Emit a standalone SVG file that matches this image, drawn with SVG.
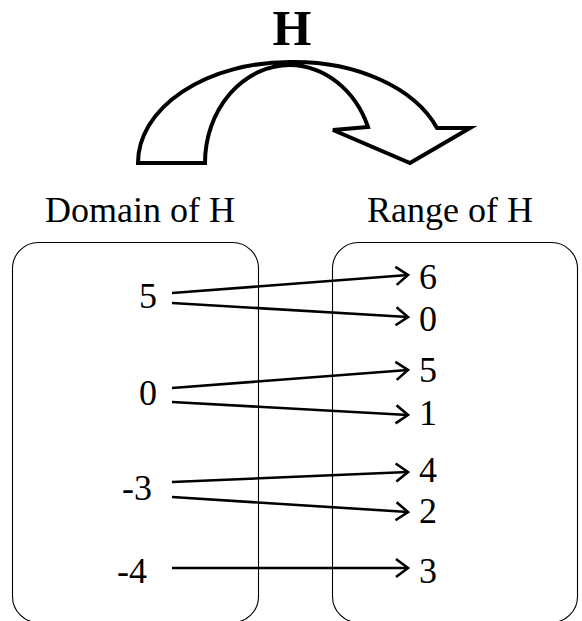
<svg xmlns="http://www.w3.org/2000/svg" width="582" height="621" viewBox="0 0 582 621">
<style>
.t{font-family:"Liberation Serif","Times New Roman",serif;font-size:36px;fill:#000}
.h{font-family:"Liberation Serif","Times New Roman",serif;font-size:50px;font-weight:bold;fill:#000}
.box{fill:none;stroke:#000;stroke-width:1.1}
.con{stroke:#000;stroke-width:2.6;fill:none;marker-end:url(#chev)}
</style>
<defs>
<marker id="chev" viewBox="-14 -11 16 22" refX="0" refY="0" markerWidth="16" markerHeight="22" markerUnits="userSpaceOnUse" orient="auto" overflow="visible">
<path d="M-12,-9 L0,0 L-12,9" fill="none" stroke="#000" stroke-width="2.6" stroke-linejoin="miter"/>
</marker>
</defs>
<rect width="582" height="621" fill="#fff"/>
<g id="title">
<text class="h" x="292" y="45" text-anchor="middle">H</text>
<path d="M138,163 L205,163 A85,98 0 0 1 290,65 A85,98 0 0 1 368,127 L333,130 L410,163 L470,128 L437,128 A152,101 0 0 0 290,62 A152,101 0 0 0 138,163 Z" fill="none" stroke="#000" stroke-width="4" stroke-linejoin="miter"/>
</g>
<g id="domain">
<text class="t" x="140" y="222" text-anchor="middle">Domain of H</text>
<rect class="box" x="12.5" y="242.5" width="246" height="380" rx="26"/>
<text class="t" x="139" y="308">5</text>
<text class="t" x="139" y="405">0</text>
<text class="t" x="122" y="500">-3</text>
<text class="t" x="117" y="583">-4</text>
</g>
<g id="range">
<text class="t" x="450" y="222" text-anchor="middle">Range of H</text>
<rect class="box" x="332.5" y="242.5" width="245" height="380" rx="26"/>
<text class="t" x="419" y="289">6</text>
<text class="t" x="419" y="331">0</text>
<text class="t" x="419" y="382">5</text>
<text class="t" x="419" y="425">1</text>
<text class="t" x="419" y="482">4</text>
<text class="t" x="419" y="523">2</text>
<text class="t" x="419" y="583">3</text>
</g>
<g id="connectors">
<line class="con" x1="172" y1="293" x2="408" y2="275"/>
<line class="con" x1="172" y1="303" x2="408" y2="317"/>
<line class="con" x1="172" y1="388" x2="408" y2="370"/>
<line class="con" x1="172" y1="402" x2="408" y2="415"/>
<line class="con" x1="172" y1="482" x2="408" y2="472"/>
<line class="con" x1="172" y1="497" x2="408" y2="512"/>
<line class="con" x1="172" y1="568" x2="408" y2="568"/>
</g>
</svg>
